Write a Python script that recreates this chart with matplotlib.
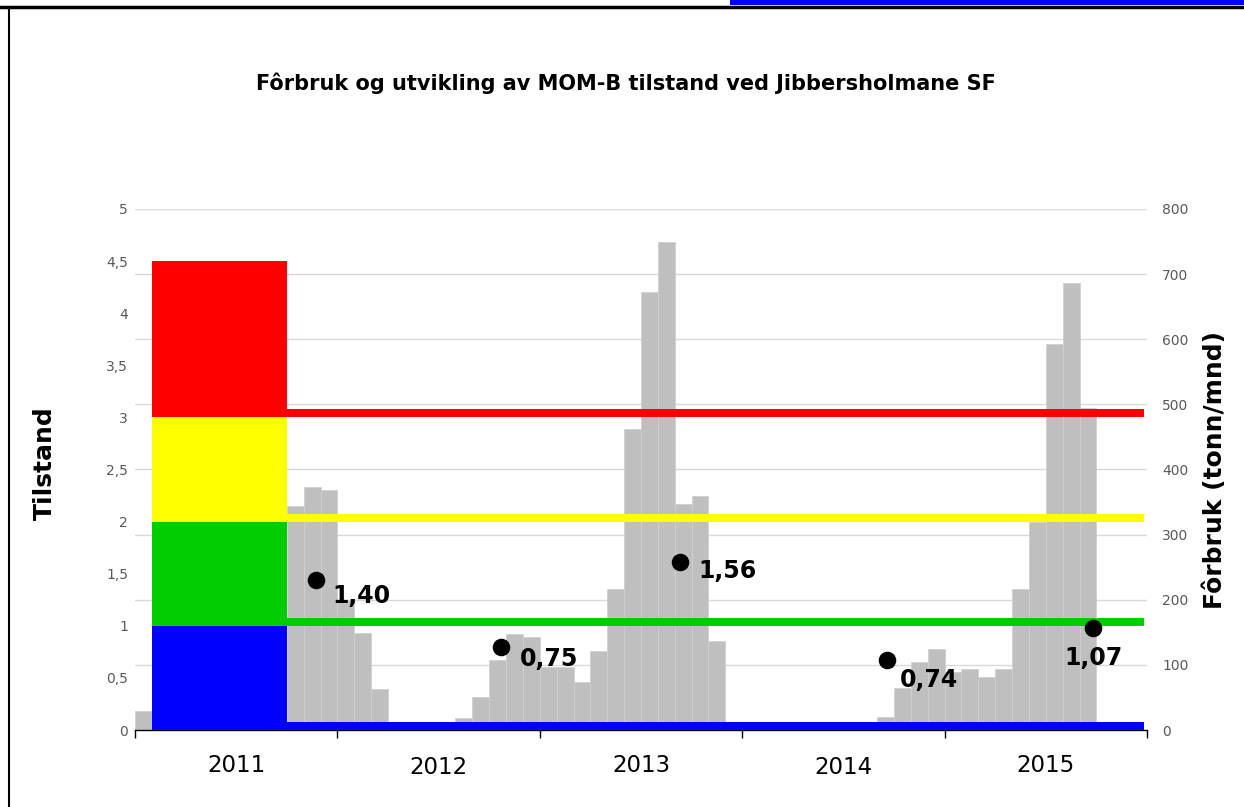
"""
plot.py

Monthly feed use (grey bars, right axis) and MOM-B state (dots, left axis)
for Jibbersholmane SF, 2011-2015, with the colour key for the state classes.
"""

import matplotlib.pyplot as plt
from matplotlib.lines import Line2D
from matplotlib.patches import Rectangle

years = ["2011", "2012", "2013", "2014", "2015"]

# feed per month (tonn/mnd), Jan 2011 .. Dec 2015
# months hidden behind the colour key in 2011 are left at 0
feed = [
    29, 0, 0, 0, 0, 0, 0, 0, 0, 344, 373, 368,
    200, 149, 63, 0, 0, 0, 0, 18, 51, 108, 148, 143,
    96, 96, 73, 122, 217, 462, 672, 750, 347, 359, 137, 0,
    0, 0, 0, 0, 0, 0, 0, 0, 20, 65, 105, 125,
    89, 94, 82, 94, 217, 320, 593, 686, 494, 0, 0, 0,
]

# MOM-B state: position of the dots (month index, state) and their labels
state_month = [10.75, 21.7, 32.3, 44.6, 56.8]
state_value = [1.44, 0.80, 1.61, 0.67, 0.98]
state_labels = ["1,40", "0,75", "1,56", "0,74", "1,07"]

# colour key: state class limits (blue, green, yellow, red)
class_colors = ["#0000FF", "#00CC00", "#FFFF00", "#FF0000"]
class_heights = [1, 1, 1, 1.5]
class_limits = [0, 1, 2, 3]

W, H = 1244, 807
fig = plt.figure(figsize=(W / 100, H / 100), dpi=100)
plt.rcParams["font.family"] = ["DejaVu Sans"]

# axes placed in pixel terms of the reference
x0, x1, y_top, y_bot = 135, 1147, 209, 730
ax_feed = fig.add_axes([x0 / W, 1 - y_bot / H, (x1 - x0) / W, (y_bot - y_top) / H])
ax_state = ax_feed.twinx()

n = len(feed)
months = list(range(n))

# --- feed bars (drawn first, behind everything on the state axis)
ax_feed.bar(months, feed, width=1.0, align="edge", color="#BFBFBF",
            edgecolor="#D0D0D0", linewidth=0.6, zorder=2)
ax_feed.set_ylim(0, 800)
ax_feed.set_yticks(range(0, 801, 100))
ax_feed.yaxis.tick_right()
ax_feed.yaxis.set_label_position("right")
ax_feed.grid(axis="y", color="#D9D9D9", linewidth=1.0, zorder=0)
ax_feed.set_axisbelow(True)
ax_feed.tick_params(axis="y", length=0, pad=11, labelsize=10, labelcolor="#595959")

ax_feed.set_xlim(0, n)
ax_feed.set_xticks(range(0, n + 1, 12))
ax_feed.set_xticklabels([])
ax_feed.tick_params(axis="x", length=6, width=1, color="black", direction="out")
for side in ["left", "right", "top"]:
    ax_feed.spines[side].set_visible(False)
ax_feed.spines["bottom"].set_color("black")
ax_feed.spines["bottom"].set_linewidth(1)

# year labels under each group of 12 months
for i, yr in enumerate(years):
    ax_feed.annotate(yr, xy=(i * 12 + 6, 0), xycoords=("data", "axes fraction"),
                     xytext=(0, -35 - 3 * (i % 2)), textcoords="offset pixels",
                     ha="center", va="center", fontsize=16.5, color="black")

# --- state axis
ax_state.set_ylim(0, 5)
ticks = [i * 0.5 for i in range(11)]
ax_state.set_yticks(ticks)
ax_state.set_yticklabels([f"{t:g}".replace(".", ",") for t in ticks])
ax_state.yaxis.tick_left()
ax_state.yaxis.set_label_position("left")
ax_state.tick_params(axis="y", length=0, pad=5, labelsize=10, labelcolor="#595959")
for side in ["left", "right", "top", "bottom"]:
    ax_state.spines[side].set_visible(False)

# colour key block (stacked) over months 1..9
bottom = 0
for c, h in zip(class_colors, class_heights):
    ax_state.add_patch(Rectangle((1, bottom), 8, h, facecolor=c, edgecolor="none", zorder=3))
    bottom += h

# thick class limit lines
band = 0.077
for c, lim in zip(class_colors, class_limits):
    ax_state.fill_between([9, 59.8], lim, lim + band, color=c, linewidth=0, zorder=4)

# state dots with labels
ax_state.scatter(state_month, state_value, s=135, color="black", zorder=6)
offsets = [(16, -16), (19, -12), (19, -9), (13, -20), (0, -30)]
for x, y, lab, (dx, dy) in zip(state_month, state_value, state_labels, offsets):
    ax_state.annotate(lab, xy=(x, y), xytext=(dx, dy), textcoords="offset pixels",
                      ha="left" if dx else "center", va="center",
                      fontsize=17, fontweight="bold", color="black", zorder=7)

# --- titles and axis labels
fig.text(626 / W, 1 - 83 / H, "Fôrbruk og utvikling av MOM-B tilstand ved Jibbersholmane SF",
         ha="center", va="center", fontsize=15, fontweight="bold")
fig.text(45 / W, 1 - 463 / H, "Tilstand", rotation=90, ha="center", va="center",
         fontsize=18, fontweight="bold")
fig.text(1215 / W, 1 - 470 / H, "Fôrbruk (tonn/mnd)", rotation=90, ha="center",
         va="center", fontsize=18, fontweight="bold")

# --- frame of the surrounding sheet
fig.add_artist(Rectangle((730 / W, 1 - 5 / H), (W - 730) / W, 5 / H,
                         transform=fig.transFigure, facecolor="#0000FF", edgecolor="none"))
fig.add_artist(Line2D([0, 1], [1 - 7 / H, 1 - 7 / H], transform=fig.transFigure,
                      color="black", linewidth=2.5))
fig.add_artist(Line2D([9 / W, 9 / W], [0, 1 - 7 / H], transform=fig.transFigure,
                      color="black", linewidth=1.5))

fig.savefig("out.png", dpi=100)
